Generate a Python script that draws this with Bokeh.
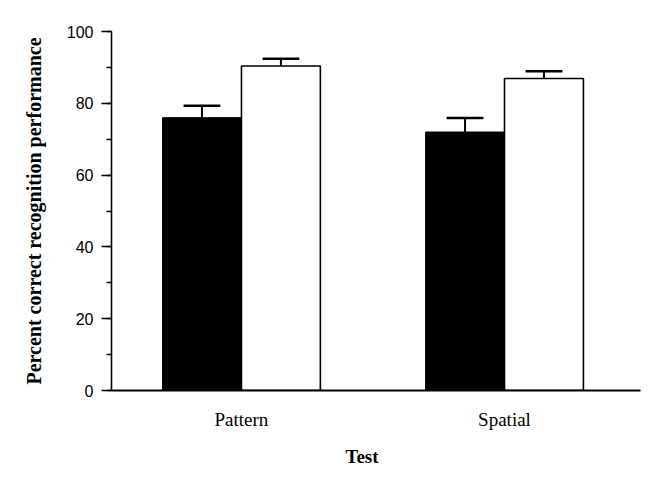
import numpy as np
from bokeh.plotting import figure
from bokeh.models import Range1d, FixedTicker, SingleIntervalTicker, Title
from bokeh.embed import file_html
from bokeh.resources import INLINE

# data
tests = ["Pattern", "Spatial"]
test_pos = [1, 2]
black_mean = [76.0, 72.0]
black_sem = [3.3, 3.9]
white_mean = [90.4, 86.9]
white_sem = [2.0, 2.0]

bar_w = 0.30
cap_w = 0.14

p = figure(width=665, height=481, output_backend="svg", toolbar_location=None,
           x_range=Range1d(0.506, 2.517), y_range=Range1d(0, 100),
           min_border_left=111, min_border_right=25, min_border_top=31,
           min_border_bottom=91)
p.outline_line_color = None
p.grid.visible = False
p.background_fill_color = "white"

xb = np.array(test_pos) - bar_w / 2
xw = np.array(test_pos) + bar_w / 2

p.vbar(x=xb, width=bar_w, top=black_mean, bottom=0, fill_color="black", line_color="black", line_width=1)
p.vbar(x=xw, width=bar_w, top=white_mean, bottom=0, fill_color="white", line_color="black", line_width=1.6)

def err(p, xs, means, sems):
    tops = np.array(means) + np.array(sems)
    p.segment(xs, means, xs, tops, line_color="black", line_width=2)
    p.segment(xs - cap_w / 2, tops, xs + cap_w / 2, tops, line_color="black", line_width=2.5)

err(p, xb, black_mean, black_sem)
err(p, xw, white_mean, white_sem)

# y axis
yax = p.yaxis[0]
yax.ticker = SingleIntervalTicker(interval=20, num_minor_ticks=2)
yax.axis_line_width = 1.6
yax.major_tick_line_width = 1.6
yax.minor_tick_line_width = 1.4
yax.major_tick_in = 0
yax.major_tick_out = 10
yax.minor_tick_in = 0
yax.minor_tick_out = 5
yax.major_label_text_font = "Liberation Sans"
yax.major_label_text_font_size = "16px"
yax.major_label_text_color = "black"
yax.major_label_standoff = 8
yax.axis_label = "Percent correct recognition performance"
yax.axis_label_text_font = "Liberation Serif"
yax.axis_label_text_font_style = "bold"
yax.axis_label_text_font_size = "20px"
yax.axis_label_text_color = "black"
yax.axis_label_standoff = 19

# x axis
xax = p.xaxis[0]
xax.ticker = FixedTicker(ticks=test_pos)
xax.major_label_overrides = {t: s for t, s in zip(test_pos, tests)}
xax.axis_line_width = 2
xax.major_tick_line_color = None
xax.minor_tick_line_color = None
xax.major_tick_out = 0
xax.major_tick_in = 0
xax.major_label_text_font = "Liberation Serif"
xax.major_label_text_font_size = "19px"
xax.major_label_text_color = "black"
xax.major_label_standoff = 18

# "Test" sits a bit left of the frame centre in the original
p.add_layout(Title(text="Test", align="left", offset=234, standoff=23,
                   text_font="Liberation Serif", text_font_style="bold",
                   text_font_size="19px", text_color="black"), "below")

open("out.html", "w").write(file_html(p, INLINE))
